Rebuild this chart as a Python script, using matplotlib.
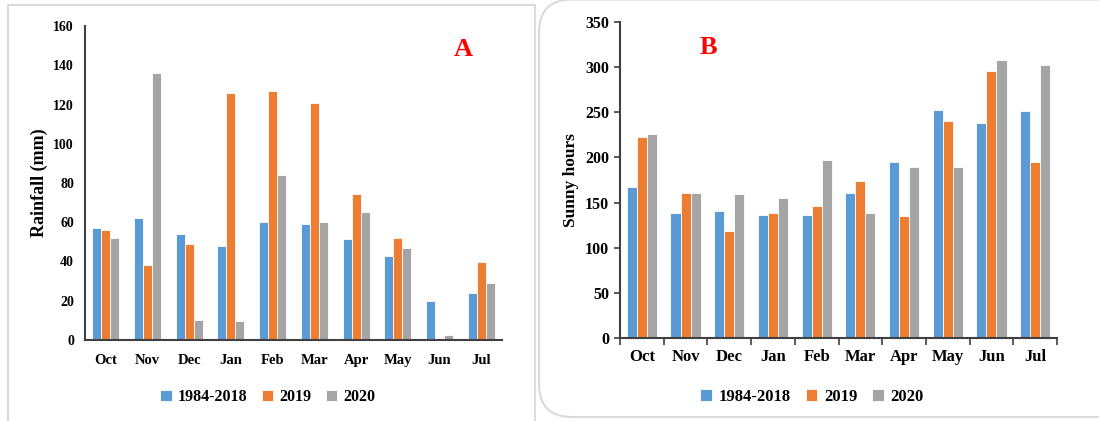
import numpy as np
import matplotlib.pyplot as plt
from matplotlib.patches import Rectangle, FancyBboxPatch

months = ['Oct', 'Nov', 'Dec', 'Jan', 'Feb', 'Mar', 'Apr', 'May', 'Jun', 'Jul']
series = ['1984-2018', '2019', '2020']
colors = ['#5B9BD5', '#ED7D31', '#A5A5A5']

# Rainfall (mm)
rain_base = [57, 62, 54, 48, 60, 59, 51.5, 43, 20, 24]
rain_2019 = [56, 38, 49, 126, 127, 121, 74.5, 52, 1, 40]
rain_2020 = [52, 136, 10, 9.5, 84, 60, 65, 47, 2.5, 29]

# Sunny hours
sun_base = [167, 138, 141, 136, 136, 161, 195, 253, 238, 251]
sun_2019 = [223, 161, 119, 138, 146, 174, 135, 240, 296, 195]
sun_2020 = [226, 161, 159, 155, 197, 138, 189, 189, 308, 302]

plt.rcParams['font.family'] = ['Liberation Serif', 'DejaVu Serif']
plt.rcParams['font.weight'] = 'bold'

W, H = 1099, 421
fig = plt.figure(figsize=(W / 100, H / 100), dpi=100)

# panel frames
fig.patches.append(Rectangle((8 / W, -0.05), (535 - 8) / W, (421 - 5) / H + 0.05,
                             transform=fig.transFigure, fill=False,
                             edgecolor='#DADADA', lw=1.5))
fig.patches.append(FancyBboxPatch((539 / W, 4 / H), (W + 60 - 539) / W, (421.5 - 4) / H,
                                  boxstyle='round,pad=0,rounding_size=0.03',
                                  mutation_aspect=W / H,
                                  transform=fig.transFigure, fill=False,
                                  edgecolor='#DADADA', lw=1.5))


def draw(ax, data, width, ylim, yticks, ylabel, letter, letter_xy, fs_x, fs_y, fs_lab, show_ticks):
    x = np.arange(len(months))
    for i, (vals, c) in enumerate(zip(data, colors)):
        ax.bar(x + (i - 1) * width, vals, width, color=c, edgecolor='white',
               linewidth=0.6, label=series[i])
    ax.set_xlim(-0.5, len(months) - 0.5)
    ax.set_ylim(*ylim)
    ax.set_yticks(yticks)
    ax.set_xticks(x)
    ax.set_xticklabels(months, fontsize=fs_x, fontweight='bold')
    for lab in ax.get_yticklabels():
        lab.set_fontsize(fs_y)
        lab.set_fontweight('bold')
    ax.set_ylabel(ylabel, fontsize=fs_lab, fontweight='bold')
    for s in ['top', 'right']:
        ax.spines[s].set_visible(False)
    for s in ['left', 'bottom']:
        ax.spines[s].set_color('#404040')
        ax.spines[s].set_linewidth(1.5)
    if show_ticks:
        ax.set_xticks(np.arange(len(months) + 1) - 0.5, minor=True)
        ax.tick_params(axis='x', which='major', length=0, pad=8)
        ax.tick_params(axis='x', which='minor', length=5, width=1.2, color='#404040')
        ax.tick_params(axis='y', length=4, width=1.2, color='#404040', pad=4)
    else:
        ax.tick_params(axis='x', length=0, pad=10)
        ax.tick_params(axis='y', length=0, pad=8)
    ax.text(letter_xy[0], letter_xy[1], letter, transform=ax.transAxes, color='red',
            fontsize=19, fontweight='bold', ha='center', va='center')


axA = fig.add_axes([85 / W, (H - 340) / H, (502 - 85) / W, 314 / H])
draw(axA, [rain_base, rain_2019, rain_2020], 0.216, (0, 160), np.arange(0, 161, 20),
     'Rainfall (mm)', 'A', ((463 - 85) / 417, (340 - 50) / 314), 10.5, 10, 13, False)
axA.legend(loc='center', bbox_to_anchor=((268 - 85) / 417, -(397 - 340) / 314),
           ncol=3, frameon=False, fontsize=11.5, handlelength=0.7, handleheight=0.7,
           handletextpad=0.4, columnspacing=0.9)

axB = fig.add_axes([620 / W, (H - 338) / H, (1057 - 620) / W, 316 / H])
draw(axB, [sun_base, sun_2019, sun_2020], 0.23, (0, 350), np.arange(0, 351, 50),
     'Sunny hours', 'B', ((708 - 620) / 437, (338 - 47) / 316), 12, 11.5, 12.5, True)
axB.legend(loc='center', bbox_to_anchor=((812 - 620) / 437, -(397 - 338) / 316),
           ncol=3, frameon=False, fontsize=12, handlelength=0.7, handleheight=0.7,
           handletextpad=0.4, columnspacing=0.9)

fig.savefig('out.png', dpi=100)
